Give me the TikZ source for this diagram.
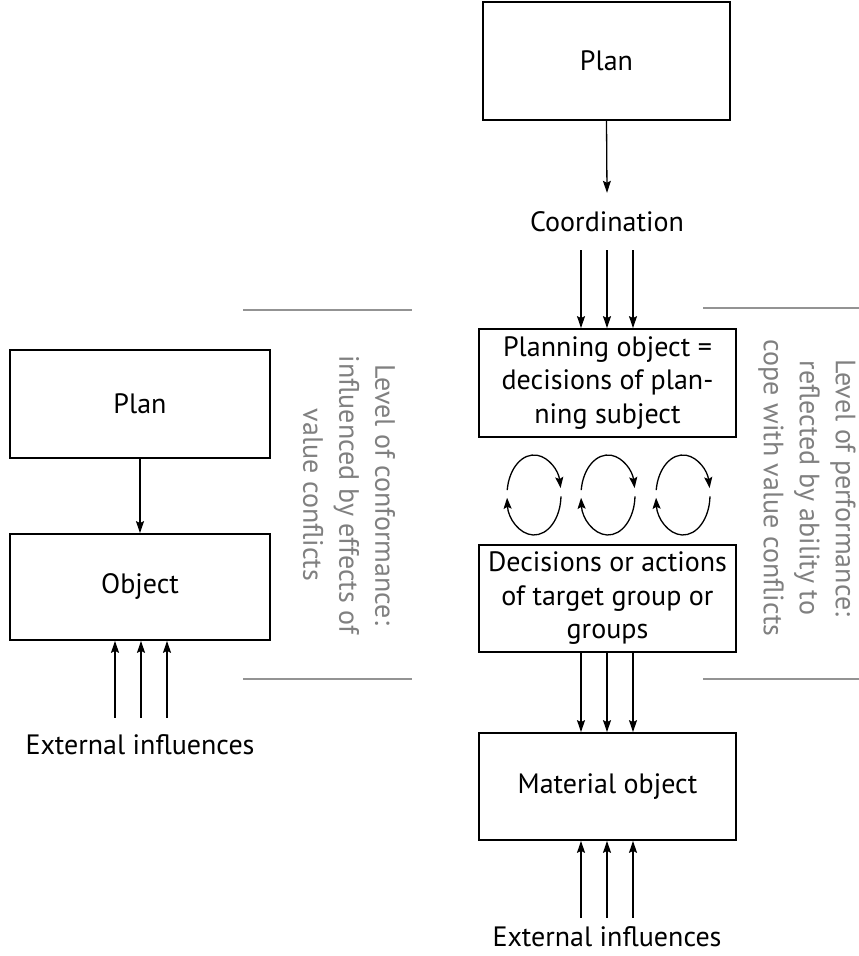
\documentclass[tikz,border=0pt]{standalone}
\usepackage{fontspec}
\setmainfont{PT Sans}
\usetikzlibrary{arrows.meta}
\definecolor{txtgray}{HTML}{808080}
\definecolor{linegray}{HTML}{939393}
\tikzset{
  box/.style={draw, line width=1.7pt, inner sep=0pt, align=center,
    font=\fontsize{28}{33.5}\selectfont},
  lbl/.style={inner sep=0pt, font=\fontsize{28}{33}\selectfont},
  side/.style={inner sep=0pt, align=center, text=txtgray, rotate=-90,
    font=\fontsize{28}{36}\selectfont},
  arr/.style={line width=1.3pt, -{Stealth[length=12pt,width=8pt,inset=2pt]}},
  cyc/.style={line width=1.3pt, -{Stealth[length=11pt,width=8pt,inset=2pt]}},
  rule/.style={draw=linegray, line width=1.3pt}
}
\begin{document}
\begin{tikzpicture}[x=1pt,y=1pt]
\useasboundingbox (0,0) rectangle (859,956);
% right column
\node[box, minimum width=247pt, minimum height=118pt] (plan2) at (606.5,895) {Plan};
\node[lbl, minimum height=57pt] (coord) at (607,734.5) {Coordination};
\node[box, minimum width=257pt, minimum height=108pt] (pobj) at (607.5,573)
  {Planning object =\\ decisions of plan-\\ ning subject};
\node[box, minimum width=257pt, minimum height=107pt] (dec) at (607.5,357.5)
  {Decisions or actions\\ of target group or\\ groups};
\node[box, minimum width=257pt, minimum height=107pt] (mat) at (607.5,169.5) {Material object};
\node[lbl, outer sep=0pt] (ext2) at (607,19) {External influences};
\draw[arr] (plan2.south) -- (coord.north);
\foreach \xx in {581,607,633}{
  \draw[arr] (coord.south -| \xx,0) -- (pobj.north -| \xx,0);
  \draw[arr] (dec.south -| \xx,0) -- (mat.north -| \xx,0);
  \draw[arr, shorten <=9pt] (ext2.north -| \xx,0) -- (mat.south -| \xx,0);
}
% cycles
\foreach \cx in {534,608,683}{
  \coordinate (c\cx) at (\cx,461);
  \draw[cyc] (c\cx) ++(173:27 and 40) arc[start angle=173, end angle=10, x radius=27, y radius=40];
  \draw[cyc] (c\cx) ++(-2:27 and 40) arc[start angle=-2, end angle=-176, x radius=27, y radius=40];
}
% left column
\node[box, minimum width=260pt, minimum height=108pt] (plan1) at (140,552) {Plan};
\node[box, minimum width=260pt, minimum height=106pt] (obj) at (140,369) {Object};
\node[lbl, minimum height=54pt] (ext1) at (140,211) {External influences};
\draw[arr] (plan1.south) -- (obj.north);
\foreach \xx in {115,141,167}{
  \draw[arr] (ext1.north -| \xx,0) -- (obj.south -| \xx,0);
}
% side rules
\coordinate (la) at (243,646); \coordinate (lb) at (412,646);
\coordinate (lc) at (243,277); \coordinate (ld) at (412,277);
\coordinate (ra) at (703,648); \coordinate (rb) at (859,648);
\coordinate (rc) at (703,277); \coordinate (rd) at (859,277);
\draw[rule] (la) -- (lb);
\draw[rule] (lc) -- (ld);
\draw[rule] (ra) -- (rb);
\draw[rule] (rc) -- (rd);
% side texts
\node[side] (conf) at (349,461) {Level of conformance:\\ influenced by effects of\\ value conflicts};
\node[side] (perf) at (807,468) {Level of performance:\\ reflected by ability to\\ cope with value conflicts};
\end{tikzpicture}
\end{document}
